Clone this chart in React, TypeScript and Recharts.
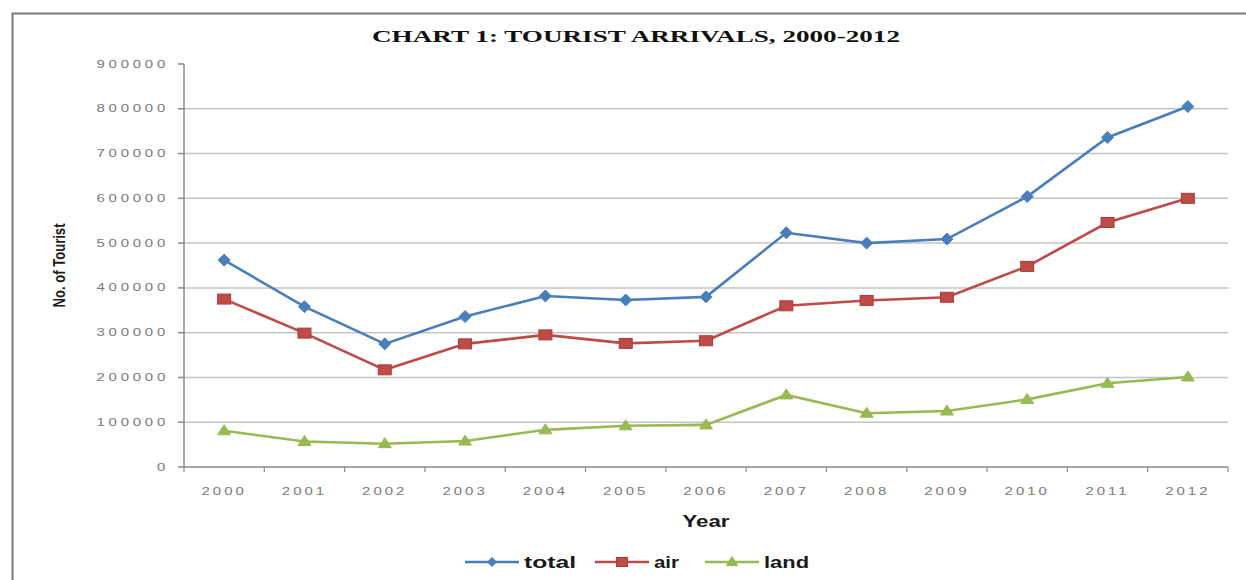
import React from 'react';
import { LineChart, Line, XAxis, YAxis, CartesianGrid, Legend, Customized, Label } from 'recharts';

const years = ['2000', '2001', '2002', '2003', '2004', '2005', '2006', '2007', '2008', '2009', '2010', '2011', '2012'];
const totalArrivals = [462000, 358000, 275000, 336000, 382000, 373000, 380000, 523000, 500000, 509000, 604000, 736000, 805000];
const airArrivals = [375000, 299000, 217000, 275000, 295000, 276000, 282000, 360000, 372000, 379000, 448000, 546000, 600000];
const landArrivals = [81000, 57000, 52000, 58000, 83000, 92000, 94000, 161000, 120000, 125000, 151000, 187000, 201000];
const yTicks = [0, 100000, 200000, 300000, 400000, 500000, 600000, 700000, 800000, 900000];
const gridValues = [100000, 200000, 300000, 400000, 500000, 600000, 700000, 800000];

const data = years.map((year, i) => ({
  year,
  total: totalArrivals[i],
  air: airArrivals[i],
  land: landArrivals[i],
}));

const W = 1246;
const H = 580;
const MARGIN = { top: 64, right: 18, bottom: 29, left: 0 };
const Y_AXIS_W = 184;
const X_AXIS_H = 60;
const HALF_BAND = (W - MARGIN.right - Y_AXIS_W) / years.length / 2;

const BLUE = '#4a7ebb';
const RED = '#be4b48';
const GREEN = '#98b954';
const AXIS = '#8a8a8a';
const SANS = '"Liberation Sans", Arial, sans-serif';
const SERIF = '"Liberation Serif", "Times New Roman", serif';

const Diamond = (props: any) => {
  const { cx, cy, size = 6 } = props;
  if (cx == null || cy == null) return null;
  return <path d={`M${cx},${cy - size} L${cx + size},${cy} L${cx},${cy + size} L${cx - size},${cy} Z`} fill={BLUE} stroke={BLUE} strokeWidth={1} />;
};
const Square = (props: any) => {
  const { cx, cy, w = 13, h = 10 } = props;
  if (cx == null || cy == null) return null;
  return <rect x={cx - w / 2} y={cy - h / 2} width={w} height={h} fill={RED} stroke="#a83c39" strokeWidth={1} />;
};
const Triangle = (props: any) => {
  const { cx, cy, w = 13, h = 10 } = props;
  if (cx == null || cy == null) return null;
  return <path d={`M${cx},${cy - h * 0.6} L${cx + w / 2},${cy + h * 0.4} L${cx - w / 2},${cy + h * 0.4} Z`} fill={GREEN} stroke={GREEN} strokeWidth={1} />;
};

const YTick = (props: any) => {
  const { x, y, payload } = props;
  return (
    <text
      x={0}
      y={0}
      transform={`translate(${x - 7},${y + 3.5}) scale(1.5,1)`}
      textAnchor="end"
      fontSize={10}
      fontFamily={SANS}
      fill="#7a7a7a"
      letterSpacing={2.5}
    >
      {payload.value}
    </text>
  );
};

const XTick = (props: any) => {
  const { x, y, payload, index } = props;
  const axisY = y - 8;
  return (
    <g>
      <line x1={x - HALF_BAND} x2={x - HALF_BAND} y1={axisY} y2={axisY + 5} stroke={AXIS} strokeWidth={1.2} />
      {index === years.length - 1 && (
        <line x1={x + HALF_BAND} x2={x + HALF_BAND} y1={axisY} y2={axisY + 5} stroke={AXIS} strokeWidth={1.2} />
      )}
      <text
        x={0}
        y={0}
        transform={`translate(${x},${axisY + 28}) scale(1.5,1)`}
        textAnchor="middle"
        fontSize={10}
        fontFamily={SANS}
        fill="#7a7a7a"
        letterSpacing={2}
      >
        {payload.value}
      </text>
    </g>
  );
};

const YearLabel = (props: any) => {
  const vb = props.viewBox || {};
  return (
    <text
      x={vb.x + vb.width / 2}
      y={vb.y + vb.height}
      textAnchor="middle"
      fontSize={16}
      fontWeight="bold"
      fontFamily={SANS}
      fill="#1a1a1a"
      textLength={47}
      lengthAdjust="spacingAndGlyphs"
    >
      Year
    </text>
  );
};

const TouristLabel = (props: any) => {
  const vb = props.viewBox || {};
  const cx = 59;
  const cy = vb.y + vb.height / 2;
  return (
    <text
      x={cx}
      y={cy}
      transform={`rotate(-90, ${cx}, ${cy})`}
      textAnchor="middle"
      dominantBaseline="central"
      fontSize={16}
      fontWeight="bold"
      fontFamily={SANS}
      fill="#1a1a1a"
      textLength={84}
      lengthAdjust="spacingAndGlyphs"
    >
      No. of Tourist
    </text>
  );
};

const Frame = () => (
  <g>
    <rect x={12.5} y={13.5} width={1400} height={800} fill="none" stroke="#7a7a7a" strokeWidth={2} />
    <text
      x={636}
      y={42}
      textAnchor="middle"
      fontFamily={SERIF}
      fontWeight="bold"
      fontSize={16}
      fill="#111"
      textLength={528}
      lengthAdjust="spacingAndGlyphs"
    >
      CHART 1: TOURIST ARRIVALS, 2000-2012
    </text>
  </g>
);

const legendItems = [
  { key: 'total', label: 'total', color: BLUE, x: 465, textLen: 52, Marker: Diamond, mp: { size: 4.5 } },
  { key: 'air', label: 'air', color: RED, x: 595, textLen: 25, Marker: Square, mp: { w: 11, h: 9 } },
  { key: 'land', label: 'land', color: GREEN, x: 705, textLen: 45, Marker: Triangle, mp: { w: 11, h: 9 } },
];

const LegendContent = () => (
  <svg width={W} height={24} style={{ display: 'block' }}>
    {legendItems.map((it) => (
      <g key={it.key}>
        <line x1={it.x} x2={it.x + 54} y1={14} y2={14} stroke={it.color} strokeWidth={2.5} />
        <it.Marker cx={it.x + 27} cy={14} {...it.mp} />
        <text
          x={it.x + 59}
          y={20}
          fontSize={16}
          fontWeight="bold"
          fontFamily={SANS}
          fill="#1a1a1a"
          textLength={it.textLen}
          lengthAdjust="spacingAndGlyphs"
        >
          {it.label}
        </text>
      </g>
    ))}
  </svg>
);

export default function App() {
  return (
    <div style={{ position: 'absolute', left: 0, top: 0, width: W, height: H, background: '#fff' }}>
      <LineChart width={W} height={H} data={data} margin={MARGIN}>
        <CartesianGrid vertical={false} horizontalValues={gridValues} stroke="#c4c4c4" strokeWidth={1.5} />
        <XAxis
          dataKey="year"
          height={X_AXIS_H}
          stroke={AXIS}
          strokeWidth={1.5}
          tickLine={false}
          tick={<XTick />}
          interval={0}
          padding={{ left: HALF_BAND, right: HALF_BAND }}
        >
          <Label content={<YearLabel />} />
        </XAxis>
        <YAxis
          width={Y_AXIS_W}
          domain={[0, 900000]}
          ticks={yTicks}
          interval={0}
          stroke={AXIS}
          strokeWidth={1.5}
          tickSize={6}
          tick={<YTick />}
        >
          <Label content={<TouristLabel />} />
        </YAxis>
        <Legend
          content={<LegendContent />}
          wrapperStyle={{ position: 'absolute', left: 0, top: 548, width: W, height: 24 }}
        />
        <Line dataKey="total" name="total" stroke={BLUE} strokeWidth={2.6} dot={<Diamond />} activeDot={false} isAnimationActive={false} />
        <Line dataKey="air" name="air" stroke={RED} strokeWidth={2.6} dot={<Square />} activeDot={false} isAnimationActive={false} />
        <Line dataKey="land" name="land" stroke={GREEN} strokeWidth={2.6} dot={<Triangle />} activeDot={false} isAnimationActive={false} />
        <Customized component={Frame} />
      </LineChart>
    </div>
  );
}
